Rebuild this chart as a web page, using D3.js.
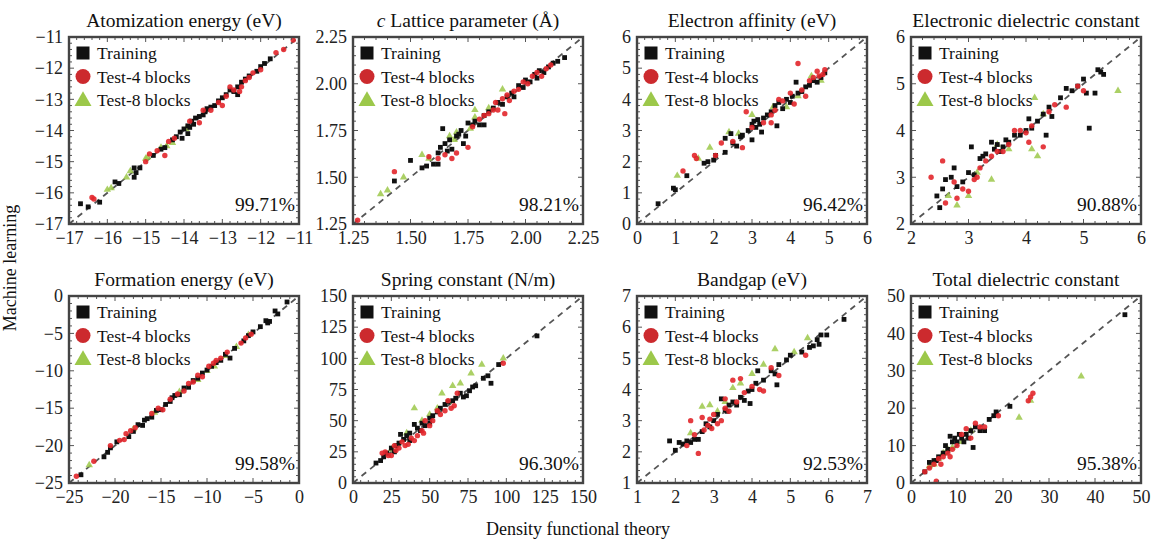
<!DOCTYPE html>
<html>
<head>
<meta charset="utf-8">
<script src="https://cdn.jsdelivr.net/npm/d3@7"></script>
<style>
  body { margin: 0; background: #fff; }
  svg { display: block; font-family: "Liberation Serif", "Times New Roman", serif; }
</style>
</head>
<body>
<svg></svg>
<script>
const svg_width = 1155;
const svg_height = 541;

// panel setup
const titles = ["Atomization energy (eV)", "Lattice parameter (Å)", "Electron affinity (eV)", "Electronic dielectric constant",
    "Formation energy (eV)", "Spring constant (N/m)", "Bandgap (eV)", "Total dielectric constant"];
const domains = [[-17, -11], [1.25, 2.25], [0, 6], [2, 6], [-25, 0], [0, 150], [1, 7], [0, 50]];
const tickSteps = [1, 0.25, 1, 1, 5, 25, 1, 10];
const accuracies = ["99.71%", "98.21%", "96.42%", "90.88%", "99.58%", "96.30%", "92.53%", "95.38%"];
const legendLabels = ["Training", "Test-4 blocks", "Test-8 blocks"];

// points [DFT, ML]
const atomTrain = [[-16.7,-16.35],[-16.5,-16.45],[-16.2,-16.3],[-15.8,-15.65],[-15.7,-15.7],[-15.3,-15.2],[-15.25,-15.35],[-15.3,-15.5],[-15.15,-15.2],[-14.8,-14.8],[-14.6,-14.6],[-14.5,-14.55],[-14.3,-14.3],[-14.2,-14.2],[-14.1,-14.05],[-14.0,-13.95],[-13.9,-13.85],[-13.85,-13.9],[-13.8,-13.7],[-13.75,-13.8],[-13.7,-13.6],[-13.6,-13.55],[-13.5,-13.5],[-13.45,-13.4],[-13.4,-13.3],[-13.3,-13.25],[-13.2,-13.2],[-13.1,-13.05],[-13.0,-12.95],[-12.9,-12.85],[-12.8,-12.7],[-12.7,-12.75],[-12.6,-12.6],[-12.5,-12.45],[-12.4,-12.35],[-12.3,-12.25],[-12.1,-12.1],[-12.0,-11.95],[-11.9,-11.85],[-11.75,-11.7],[-12.6,-12.85],[-13.9,-14.1],[-14.05,-14.25]];
const atomTest4 = [[-16.4,-16.15],[-16.35,-16.2],[-15.0,-15.0],[-14.9,-14.75],[-14.7,-14.65],[-14.5,-14.8],[-14.4,-14.35],[-14.25,-14.25],[-13.6,-13.75],[-13.5,-13.35],[-13.3,-13.35],[-13.1,-13.1],[-13.0,-13.2],[-12.8,-12.6],[-12.7,-12.7],[-12.55,-12.75],[-12.5,-12.6],[-12.4,-12.4],[-12.3,-12.3],[-12.2,-12.15],[-12.0,-12.05],[-11.6,-11.5],[-11.4,-11.4],[-11.15,-11.1],[-13.85,-13.7],[-12.9,-12.9]];
const atomTest8 = [[-16.0,-15.9],[-15.9,-15.85],[-15.5,-15.5],[-15.4,-15.3],[-15.0,-14.9],[-14.95,-14.85],[-14.6,-14.55],[-14.45,-14.5],[-14.3,-14.4],[-13.95,-13.95]];

const latTrain = [[1.43,1.48],[1.5,1.59],[1.55,1.55],[1.57,1.56],[1.6,1.57],[1.62,1.63],[1.63,1.66],[1.64,1.76],[1.65,1.68],[1.66,1.64],[1.67,1.7],[1.68,1.65],[1.7,1.72],[1.71,1.73],[1.72,1.75],[1.74,1.72],[1.75,1.79],[1.77,1.78],[1.78,1.8],[1.8,1.78],[1.82,1.83],[1.84,1.85],[1.86,1.87],[1.88,1.9],[1.9,1.89],[1.92,1.93],[1.94,1.95],[1.95,1.93],[1.97,1.99],[1.99,1.98],[2.0,2.02],[2.02,2.01],[2.04,2.05],[2.05,2.03],[2.06,2.07],[2.08,2.06],[2.1,2.09],[2.12,2.11],[2.14,2.12],[2.17,2.14],[1.82,1.78],[1.62,1.57],[1.73,1.68]];
const latTest4 = [[1.27,1.27],[1.43,1.53],[1.58,1.61],[1.62,1.6],[1.65,1.62],[1.68,1.6],[1.7,1.63],[1.75,1.66],[1.77,1.77],[1.8,1.81],[1.82,1.83],[1.84,1.84],[1.86,1.86],[1.87,1.9],[1.88,1.86],[1.9,1.92],[1.91,1.84],[1.93,1.91],[1.95,1.96],[1.97,1.97],[1.99,2.01],[2.01,2.0],[2.03,2.04],[2.05,2.06],[2.07,2.04],[2.09,2.08],[2.11,2.1],[1.92,1.94]];
const latTest8 = [[1.37,1.41],[1.4,1.43],[1.47,1.5],[1.55,1.62],[1.58,1.6],[1.67,1.72],[1.69,1.7],[1.7,1.74],[1.78,1.82],[1.78,1.86],[1.84,1.87],[1.9,1.97],[1.76,1.76]];

const eaTrain = [[0.55,0.65],[0.95,1.15],[1.0,1.1],[1.3,1.55],[1.75,1.95],[1.85,2.0],[2.0,2.05],[2.05,2.2],[2.3,2.3],[2.5,2.6],[2.6,2.5],[2.7,2.8],[2.75,2.85],[2.9,3.0],[3.0,2.7],[3.0,3.2],[3.05,3.3],[3.1,3.1],[3.15,3.35],[3.2,3.2],[3.3,3.4],[3.4,3.5],[3.5,3.6],[3.6,3.8],[3.65,3.15],[3.7,3.9],[3.8,3.7],[3.9,4.0],[4.0,3.9],[4.05,4.1],[4.15,4.55],[4.2,4.2],[4.3,4.25],[4.4,4.4],[4.5,4.45],[4.6,4.6],[4.7,4.55],[4.8,4.7],[4.9,4.85],[2.45,2.9],[2.3,2.75],[3.25,2.95]];
const eaTest4 = [[1.2,1.7],[1.5,2.2],[1.55,2.1],[2.05,2.2],[2.2,2.6],[2.5,2.65],[2.75,2.45],[2.85,3.6],[3.0,3.1],[3.3,3.25],[3.5,3.5],[3.6,3.65],[3.7,4.0],[3.8,3.95],[4.0,4.2],[4.1,3.85],[4.2,5.15],[4.3,4.3],[4.4,4.1],[4.5,4.6],[4.6,4.7],[4.7,4.9],[4.75,4.75],[4.85,4.8],[4.9,4.95],[3.5,3.25]];
const eaTest8 = [[1.05,1.55],[1.6,2.1],[1.9,2.45],[2.4,2.95],[2.65,2.9],[3.0,3.5],[3.55,3.75],[3.9,3.75],[4.2,4.1],[4.55,4.75],[4.8,4.6]];

const edcTrain = [[2.45,2.6],[2.5,2.35],[2.55,2.75],[2.6,2.95],[2.7,3.0],[2.75,3.2],[2.8,2.8],[2.9,2.9],[3.0,3.1],[3.05,3.65],[3.1,3.05],[3.2,3.4],[3.25,3.45],[3.3,3.5],[3.4,3.75],[3.5,3.7],[3.55,3.55],[3.6,3.65],[3.7,3.75],[3.8,3.9],[3.9,3.9],[4.0,4.0],[4.05,4.25],[4.1,4.05],[4.2,4.2],[4.3,4.35],[4.35,3.9],[4.4,4.5],[4.45,4.3],[4.6,4.7],[4.7,4.9],[4.8,4.85],[4.9,4.95],[5.0,5.1],[5.05,4.8],[5.1,4.05],[5.2,4.8],[5.25,5.3],[5.35,5.2],[5.3,5.25],[3.45,3.6],[3.65,3.8]];
const edcTest4 = [[2.35,3.0],[2.55,3.35],[2.6,2.45],[2.75,2.9],[2.8,2.55],[2.9,2.75],[3.0,2.7],[3.1,2.95],[3.15,3.0],[3.3,3.35],[3.4,3.45],[3.5,3.55],[3.6,3.55],[3.7,3.7],[3.8,4.0],[3.9,4.0],[4.0,3.95],[4.05,3.75],[4.1,4.1],[4.3,3.65],[4.4,4.4],[4.5,4.55],[4.7,4.5],[4.9,4.95],[5.0,4.85],[3.2,3.2]];
const edcTest8 = [[2.65,2.6],[2.8,2.4],[3.0,2.6],[3.15,3.1],[3.4,2.95],[3.5,3.7],[3.7,3.6],[4.1,3.6],[4.15,4.7],[4.2,3.45],[4.3,4.35],[5.6,4.85]];

const feTrain = [[-23.7,-23.9],[-21.2,-21.5],[-20.8,-20.9],[-20.5,-20.3],[-19.8,-19.5],[-18.5,-18.8],[-18.0,-18.1],[-17.5,-17.2],[-17.0,-17.3],[-16.5,-16.4],[-16.0,-16.2],[-15.5,-15.3],[-15.0,-15.2],[-14.5,-14.5],[-14.0,-14.1],[-13.5,-13.3],[-13.0,-13.2],[-12.5,-12.3],[-12.0,-12.2],[-11.5,-11.3],[-11.0,-11.0],[-10.5,-10.3],[-10.0,-9.9],[-9.5,-9.4],[-9.0,-8.9],[-8.5,-8.6],[-8.0,-7.8],[-7.5,-8.3],[-7.0,-7.0],[-6.0,-6.0],[-5.5,-5.3],[-5.0,-4.8],[-4.2,-4.1],[-3.6,-3.3],[-3.4,-3.6],[-3.2,-3.4],[-2.6,-2.0],[-2.3,-2.4],[-1.3,-0.8],[-16.8,-16.6],[-13.8,-13.6]];
const feTest4 = [[-24.2,-24.1],[-22.3,-22.1],[-20.5,-20.0],[-19.5,-19.3],[-19.0,-19.2],[-18.3,-18.0],[-17.8,-17.6],[-16.0,-15.7],[-15.3,-15.0],[-14.8,-15.2],[-14.0,-13.8],[-13.2,-13.1],[-12.5,-12.7],[-11.5,-11.5],[-11.0,-10.6],[-10.5,-10.8],[-9.8,-9.4],[-9.3,-9.0],[-9.0,-8.6],[-8.5,-8.3],[-7.8,-7.5],[-6.3,-6.3],[-5.8,-5.6],[-5.2,-5.1],[-18.8,-18.4],[-12.0,-11.7]];
const feTest8 = [[-22.8,-22.6],[-18.0,-17.8],[-15.7,-15.6],[-13.0,-12.8],[-11.0,-11.2],[-10.0,-10.0],[-9.2,-9.4],[-8.0,-8.0],[-6.8,-6.8],[-5.5,-5.2]];

const scTrain = [[15,16],[18,18],[20,21],[22,24],[25,28],[27,25],[28,30],[30,32],[31,39],[33,35],[35,38],[37,40],[40,47],[42,44],[45,48],[47,46],[50,52],[52,54],[55,57],[57,60],[60,63],[62,65],[65,66],[67,68],[70,72],[72,69],[74,70],[76,74],[78,77],[80,78],[85,84],[88,86],[90,80],[95,95],[120,118],[37,34],[44,42],[50,48]];
const scTest4 = [[19,24],[21,25],[23,22],[25,22],[28,26],[30,28],[32,33],[34,30],[36,31],[38,36],[40,34],[42,38],[45,42],[47,50],[50,46],[52,50],[55,58],[57,55],[60,58],[62,66],[64,60],[66,62],[68,72],[98,96],[27,30],[46,40]];
const scTest8 = [[25,27],[35,40],[40,60],[45,50],[50,55],[55,60],[58,72],[62,65],[65,78],[70,80],[77,88],[84,95],[98,100]];

const bgTrain = [[1.85,2.35],[2.0,2.05],[2.1,2.3],[2.2,2.25],[2.3,2.35],[2.4,2.3],[2.5,2.4],[2.6,2.4],[2.7,2.65],[2.8,2.9],[2.9,2.8],[3.0,3.0],[3.1,3.2],[3.2,3.7],[3.3,3.35],[3.4,3.5],[3.5,3.6],[3.6,3.5],[3.7,3.75],[3.8,3.65],[3.9,3.95],[4.0,4.0],[4.1,4.2],[4.15,4.6],[4.3,4.3],[4.5,4.6],[4.6,4.5],[4.7,4.8],[4.9,4.95],[5.0,5.1],[5.3,5.2],[5.5,5.35],[5.6,5.4],[5.7,5.6],[5.75,5.45],[5.8,5.75],[5.95,5.75],[6.4,6.25],[4.65,4.15],[3.95,3.55],[3.35,3.3]];
const bgTest4 = [[2.3,2.2],[2.4,3.0],[2.5,2.55],[2.6,1.95],[2.7,3.1],[2.75,2.7],[2.85,2.85],[2.95,2.75],[3.0,3.2],[3.1,2.9],[3.2,3.0],[3.3,3.4],[3.4,3.3],[3.5,4.3],[3.6,3.6],[3.7,4.35],[3.8,3.9],[4.0,4.1],[4.2,4.0],[4.3,3.95],[4.5,4.7],[4.7,4.45],[5.4,5.1],[2.9,3.05],[3.3,3.7]];
const bgTest8 = [[2.4,2.6],[2.7,3.45],[2.9,3.5],[3.3,3.6],[3.5,4.05],[3.7,4.2],[4.0,4.5],[4.3,4.8],[4.6,5.3],[5.1,5.2],[5.45,5.65],[3.1,3.3]];

const tdcTrain = [[3,3],[4,5.5],[5,6],[6,7],[7,8],[7.5,10],[8,9],[9,11],[9.5,12],[10,11],[10.5,13],[11,12],[11.5,11],[12,13],[12.5,12],[13,14],[13.5,9.5],[14,15],[15,14],[16,14],[17,17],[18,18],[18.5,19],[21.5,20.5],[46.5,45],[5.5,6],[8.5,12.5]];
const tdcTest4 = [[3,3],[4,4],[5,5],[5.5,0.5],[6,6.5],[7,7],[8,8],[9,9],[10,10],[11,13],[12,14.5],[13,12],[14,16],[15,15],[16,15],[19,18],[26,23],[26.5,24],[25.5,22],[8.5,7],[6.5,5]];
const tdcTest8 = [[4,4.5],[5,5],[6,6.5],[7,8],[8,9],[9,9.5],[11,11],[13,14],[23.5,17.5],[37,28.5],[26,22]];

const trainSets = [atomTrain, latTrain, eaTrain, edcTrain, feTrain, scTrain, bgTrain, tdcTrain];
const test4Sets = [atomTest4, latTest4, eaTest4, edcTest4, feTest4, scTest4, bgTest4, tdcTest4];
const test8Sets = [atomTest8, latTest8, eaTest8, edcTest8, feTest8, scTest8, bgTest8, tdcTest8];

const colTrain = "#111";
const colTest4 = "#e2262b";
const colTest8 = "#9cc84a";

const panelLefts = [69, 353, 637, 911];
const panelTops = [37, 296];
const pw = 230;
const ph = 187;
const serif = "Liberation Serif, Times New Roman, serif";

const svg = d3.select("svg")
    .attr("width", svg_width)
    .attr("height", svg_height)
    .attr("font-family", serif);

const tri = d3.symbol().type(d3.symbolTriangle);

titles.forEach((title, i) => {
    const left = panelLefts[i % 4];
    const top = panelTops[Math.floor(i / 4)];
    const dom = domains[i];
    const step = tickSteps[i];

    const g = svg.append("g").attr("transform", `translate(${left}, ${top})`);

    const x = d3.scaleLinear().domain(dom).range([0, pw]);
    const y = d3.scaleLinear().domain(dom).range([ph, 0]);

    const n = Math.round((dom[1] - dom[0]) / step);
    const ticks = d3.range(n + 1).map(k => +(dom[0] + k * step).toFixed(4));
    const minor = d3.range(n * 5 + 1).map(k => dom[0] + k * step / 5);
    const fmt = step < 1 ? d3.format(".2f") : d3.format("d");

    g.append("rect")
        .attr("width", pw).attr("height", ph)
        .attr("fill", "#fff");

    // axes labels
    const xAxis = d3.axisBottom(x).tickValues(ticks).tickSize(0).tickPadding(7).tickFormat(fmt);
    const yAxis = d3.axisLeft(y).tickValues(ticks).tickSize(0).tickPadding(6).tickFormat(fmt);
    const gx = g.append("g").attr("transform", `translate(0, ${ph})`).call(xAxis);
    const gy = g.append("g").call(yAxis);
    [gx, gy].forEach(a => {
        a.attr("font-family", serif);
        a.select(".domain").remove();
        a.selectAll("text")
            .attr("font-size", 18)
            .attr("fill", "#222");
    });

    // clip for points and line
    const clipId = "clip" + i;
    g.append("clipPath").attr("id", clipId)
        .append("rect").attr("width", pw).attr("height", ph);
    const inner = g.append("g").attr("clip-path", `url(#${clipId})`);

    inner.append("line")
        .attr("x1", x(dom[0])).attr("y1", y(dom[0]))
        .attr("x2", x(dom[1])).attr("y2", y(dom[1]))
        .attr("stroke", "#555")
        .attr("stroke-width", 1.8)
        .attr("stroke-dasharray", "6,5");

    inner.selectAll("path.t8")
        .data(test8Sets[i])
        .enter()
        .append("path")
        .attr("class", "t8")
        .attr("d", tri.size(24))
        .attr("transform", d => `translate(${x(d[0])}, ${y(d[1])})`)
        .attr("fill", colTest8)
        .attr("opacity", 0.85);

    inner.selectAll("rect.tr")
        .data(trainSets[i])
        .enter()
        .append("rect")
        .attr("class", "tr")
        .attr("x", d => x(d[0]) - 2.4)
        .attr("y", d => y(d[1]) - 2.4)
        .attr("width", 4.8)
        .attr("height", 4.8)
        .attr("fill", colTrain);

    inner.selectAll("circle.t4")
        .data(test4Sets[i])
        .enter()
        .append("circle")
        .attr("class", "t4")
        .attr("cx", d => x(d[0]))
        .attr("cy", d => y(d[1]))
        .attr("r", 2.7)
        .attr("fill", colTest4)
        .attr("opacity", 0.9);

    // frame with minor ticks
    const tickG = g.append("g").attr("stroke", "#555").attr("stroke-width", 1);
    minor.forEach((v, k) => {
        const len = k % 5 === 0 ? 5 : 3;
        const px = x(v), py = y(v);
        tickG.append("line").attr("x1", px).attr("x2", px).attr("y1", ph).attr("y2", ph - len);
        tickG.append("line").attr("x1", px).attr("x2", px).attr("y1", 0).attr("y2", len);
        tickG.append("line").attr("y1", py).attr("y2", py).attr("x1", 0).attr("x2", len);
        tickG.append("line").attr("y1", py).attr("y2", py).attr("x1", pw).attr("x2", pw - len);
    });
    g.append("rect")
        .attr("width", pw).attr("height", ph)
        .attr("fill", "none")
        .attr("stroke", "#444")
        .attr("stroke-width", 2.4);

    // title
    const t = g.append("text")
        .attr("x", pw / 2).attr("y", -10)
        .attr("text-anchor", "middle")
        .attr("font-size", 19.5)
        .attr("fill", "#111");
    if (i === 1) {
        t.append("tspan").attr("font-style", "italic").text("c");
        t.append("tspan").text(" " + title);
    } else {
        t.text(title);
    }

    // legend
    const lg = g.append("g").attr("transform", "translate(14, 16)");
    lg.append("rect").attr("x", -6.5).attr("y", -6.5).attr("width", 13).attr("height", 13).attr("fill", colTrain);
    lg.append("circle").attr("cx", 0).attr("cy", 23.5).attr("r", 7.5).attr("fill", "#cc2a2e");
    lg.append("path").attr("d", tri.size(125)).attr("transform", "translate(0, 48)").attr("fill", colTest8);
    legendLabels.forEach((lab, k) => {
        lg.append("text")
            .attr("x", 14).attr("y", k * 23.5 + 6)
            .attr("font-size", 17.5)
            .attr("fill", "#111")
            .text(lab);
    });

    // accuracy
    g.append("text")
        .attr("x", pw - 4).attr("y", ph - 13)
        .attr("text-anchor", "end")
        .attr("font-size", 19.5)
        .attr("fill", "#111")
        .text(accuracies[i]);
});

svg.append("text")
    .attr("transform", "translate(16, 268) rotate(-90)")
    .attr("text-anchor", "middle")
    .attr("font-size", 18)
    .attr("fill", "#111")
    .text("Machine learning");

svg.append("text")
    .attr("x", 578).attr("y", 535)
    .attr("text-anchor", "middle")
    .attr("font-size", 18)
    .attr("fill", "#111")
    .text("Density functional theory");
</script>
</body>
</html>
